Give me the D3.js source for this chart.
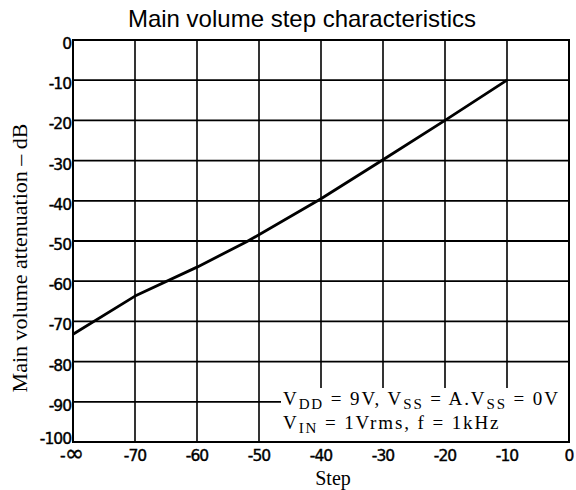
<!doctype html>
<head>
<meta charset="utf-8">
<style>
  body { margin: 0; background: #fff; }
  svg { display: block; }
  .tick-lbl { font-family: "DejaVu Sans", sans-serif; font-size: 15.5px; letter-spacing: -1px; fill: #000; stroke: #000; stroke-width: 0.4px; }
  .serif { font-family: "Liberation Serif", "Times New Roman", serif; fill: #000; }
</style>
<script src="https://cdnjs.cloudflare.com/ajax/libs/d3/7.8.5/d3.min.js"></script>
</head>
<body>
<script>
// curve (step -80 stands for -infinity)
var steps = [-80, -70, -60, -52, -40, -30, -20, -10];
var atten = [-73.2, -63.7, -56.5, -50.2, -39.5, -29.8, -20, -10];

var xTicks = [-80, -70, -60, -50, -40, -30, -20, -10, 0];
var xTickLabels = ["-\u221e", "-70", "-60", "-50", "-40", "-30", "-20", "-10", "0"];
var yTicks = [0, -10, -20, -30, -40, -50, -60, -70, -80, -90, -100];

(function() {
var W = 576, H = 490;
var pl = 73, pr = 569, pt = 40, pb = 442;

var svg = d3.select("body").append("svg")
  .attr("width", W)
  .attr("height", H);

var x = d3.scaleLinear().domain([-80, 0]).range([pl, pr]);
var y = d3.scaleLinear().domain([-100, 0]).range([pb, pt]);

// grid
svg.append("g").selectAll("line")
  .data(xTicks.slice(1, -1)).enter()
  .append("line")
    .attr("x1", d => x(d)).attr("x2", d => x(d))
    .attr("y1", pt).attr("y2", pb)
    .attr("stroke", "#000").attr("stroke-width", 1.6);

svg.append("g").selectAll("line")
  .data(yTicks.slice(1, -1)).enter()
  .append("line")
    .attr("x1", pl).attr("x2", pr)
    .attr("y1", d => y(d)).attr("y2", d => y(d))
    .attr("stroke", "#000").attr("stroke-width", 1.8);

// curve
var line = d3.line().x((d, i) => x(steps[i])).y(d => y(d));
svg.append("path")
  .datum(atten)
  .attr("d", line)
  .attr("fill", "none")
  .attr("stroke", "#000")
  .attr("stroke-width", 2.8)
  .attr("stroke-linejoin", "round");

// note box covers the grid
svg.append("rect")
  .attr("x", 281).attr("y", 388)
  .attr("width", pr - 281).attr("height", pb - 388)
  .attr("fill", "#fff");

// frame
svg.append("rect")
  .attr("x", pl).attr("y", pt)
  .attr("width", pr - pl).attr("height", pb - pt)
  .attr("fill", "none")
  .attr("stroke", "#000")
  .attr("stroke-width", 2);

// tick labels
svg.append("g").selectAll("text")
  .data(yTicks).enter()
  .append("text")
    .attr("class", "tick-lbl")
    .attr("x", 71)
    .attr("y", d => y(d) + (d == -100 ? 2 : 9))
    .attr("text-anchor", "end")
    .text(d => d);

svg.append("g").selectAll("text")
  .data(xTicks).enter()
  .append("text")
    .attr("class", "tick-lbl")
    .attr("x", (d, i) => x(d) + (i == 0 ? -1 : 0))
    .attr("y", 461)
    .attr("text-anchor", "middle")
    .each(function(d, i) {
      var lbl = xTickLabels[i];
      var t = d3.select(this);
      if (lbl.indexOf("\u221e") > -1) {
        t.append("tspan").text("-");
        t.append("tspan").text("\u221e").style("font-size", "23px").style("letter-spacing", "0px");
      } else {
        t.text(lbl);
      }
    });

// titles
svg.append("text")
  .attr("x", 302)
  .attr("y", 27)
  .attr("text-anchor", "middle")
  .style("font-family", "'Liberation Sans', Arial, sans-serif")
  .style("font-size", "24px")
  .text("Main volume step characteristics");

svg.append("text")
  .attr("class", "serif")
  .attr("transform", "translate(27,258) rotate(-90)")
  .attr("text-anchor", "middle")
  .style("font-size", "22px")
  .text("Main volume attenuation \u2013 dB");

svg.append("text")
  .attr("class", "serif")
  .attr("x", 333)
  .attr("y", 485)
  .attr("text-anchor", "middle")
  .style("font-size", "20px")
  .text("Step");

// conditions note
function note(yPos, parts) {
  var t = svg.append("text")
    .attr("class", "serif")
    .attr("x", 283)
    .attr("y", yPos)
    .style("font-size", "19px")
    .style("letter-spacing", "1.9px");
  parts.forEach(function(p) {
    var s = t.append("tspan").text(p[0]);
    if (p[1]) {
      s.attr("dy", 4).style("font-size", "15px");
    } else if (p[2]) {
      s.attr("dy", -4);
    }
  });
}
note(405, [["V"], ["DD", 1], [" = 9V, V", 0, 1], ["SS", 1], [" = A.V", 0, 1], ["SS", 1], [" = 0V", 0, 1]]);
note(429, [["V"], ["IN", 1], [" = 1Vrms, f = 1kHz", 0, 1]]);
})();
</script>
</body>
